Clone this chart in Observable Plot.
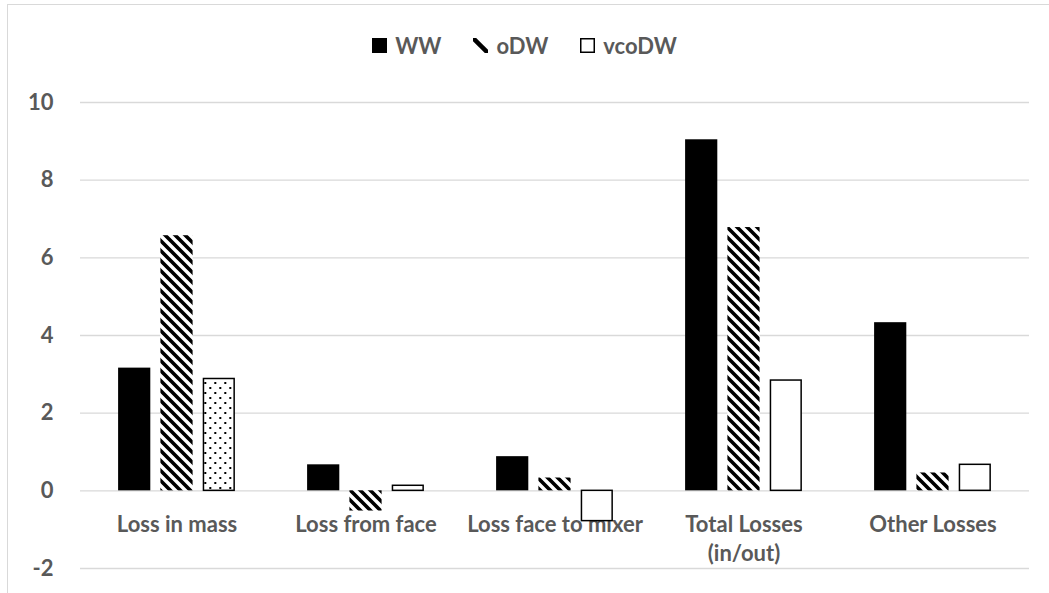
<!DOCTYPE html>
<html>
<head>
<meta charset="utf-8">
<script src="https://cdn.jsdelivr.net/npm/d3@7"></script>
<script src="https://cdn.jsdelivr.net/npm/@observablehq/plot@0.6"></script>
<style>
  html, body { margin: 0; padding: 0; background: #fff; }
  body { width: 1049px; height: 593px; position: relative; overflow: hidden; font-family: Lato, "Open Sans", sans-serif; }
  #frame { position: absolute; left: 7px; top: 4px; width: 1200px; height: 800px; border: 1px solid #d9d9d9; box-sizing: border-box; }
  #legend { position: absolute; left: 0; top: 30px; width: 1049px; height: 30px; display: flex; justify-content: center; align-items: center; gap: 32px; font-weight: bold; font-size: 22px; color: #595959; }
  #legend .item { display: flex; align-items: center; gap: 8px; }
  #legend svg { display: block; }
  #chart { position: absolute; left: 0; top: 70px; }
</style>
</head>
<body>
<div id="frame"></div>
<div id="legend"></div>
<div id="chart"></div>
<script>
// ---- data ----
const categories = ["Loss in mass", "Loss from face", "Loss face to mixer", "Total Losses\n(in/out)", "Other Losses"];
const series = ["WW", "oDW", "vcoDW"];
const ww    = [3.16, 0.67, 0.88, 9.04, 4.33];
const odw   = [6.57, -0.52, 0.33, 6.78, 0.46];
const vcodw = [2.88, 0.13, -0.78, 2.84, 0.67];
const yTicks = [-2, 0, 2, 4, 6, 8, 10];

const gray = "#595959";
const gridColor = "#d9d9d9";

const rows = (vals) => categories.map((c, i) => ({category: c, value: vals[i], idx: i}));

const barW = 33, step = 42.3;
const bandW = 949 / 5;
const inset = (bandW - barW) / 2;

const chart = Plot.plot({
  width: 1049,
  height: 523,
  marginLeft: 80,
  marginRight: 20,
  marginTop: 32,
  marginBottom: 25,
  style: {fontFamily: "Lato, 'Open Sans', sans-serif", fontWeight: "bold", fontSize: "22px", color: gray, background: "transparent", overflow: "visible"},
  x: {domain: categories, padding: 0, axis: null},
  y: {domain: [-2, 10], ticks: yTicks, tickSize: 0, tickPadding: 27, label: null, tickFormat: d => String(d)},
  color: {type: "identity"},
  marks: [
    Plot.ruleY(yTicks, {stroke: gridColor, strokeWidth: 1.3}),
    Plot.text(categories, {x: d => d, y: () => 0, dy: 21, text: d => d, lineAnchor: "top", lineHeight: 1.32, fill: gray}),
    Plot.barY(rows(ww), {x: "category", y: "value", fill: "black", insetLeft: inset, insetRight: inset, dx: -step}),
    Plot.barY(rows(odw), {x: "category", y: "value", fill: "url(#stripes)", insetLeft: inset, insetRight: inset}),
    Plot.barY(rows(vcodw), {x: "category", y: "value", fill: d => d.idx === 0 ? "url(#dots)" : "white", stroke: "black", strokeWidth: 1.5, insetLeft: inset + 0.75, insetRight: inset + 0.75, dx: step})
  ]
});

// patterns
const svg = d3.select(chart.tagName.toLowerCase() === "svg" ? chart : chart.querySelector("svg"));
const defs = svg.insert("defs", ":first-child");
const st = defs.append("pattern").attr("id", "stripes").attr("patternUnits", "userSpaceOnUse").attr("width", 10).attr("height", 10);
st.append("rect").attr("width", 10).attr("height", 10).attr("fill", "white");
st.append("path").attr("d", "M-2,-2 L12,12 M-7,3 L3,13 M7,-3 L13,3").attr("stroke", "black").attr("stroke-width", 3.6);
const dt = defs.append("pattern").attr("id", "dots").attr("patternUnits", "userSpaceOnUse").attr("width", 10).attr("height", 10);
dt.append("rect").attr("width", 10).attr("height", 10).attr("fill", "white");
dt.append("rect").attr("x", 2).attr("y", 2).attr("width", 2).attr("height", 2).attr("fill", "black");
dt.append("rect").attr("x", 7).attr("y", 7).attr("width", 2).attr("height", 2).attr("fill", "black");

document.getElementById("chart").appendChild(chart);

// legend
const legend = document.getElementById("legend");
const icons = {
  "WW": `<svg width="15" height="15"><rect width="15" height="15" fill="black"/></svg>`,
  "oDW": `<svg width="15" height="15"><defs><pattern id="lst" patternUnits="userSpaceOnUse" width="15" height="15"><path d="M0,0 L15,15" stroke="black" stroke-width="4.5"/></pattern></defs><rect width="15" height="15" fill="url(#lst)"/></svg>`,
  "vcoDW": `<svg width="15" height="15"><rect x="0.75" y="0.75" width="13.5" height="13.5" fill="white" stroke="black" stroke-width="1.5"/></svg>`
};
series.forEach(s => {
  const it = document.createElement("div");
  it.className = "item";
  it.innerHTML = icons[s] + `<span>${s}</span>`;
  legend.appendChild(it);
});
</script>
</body>
</html>
